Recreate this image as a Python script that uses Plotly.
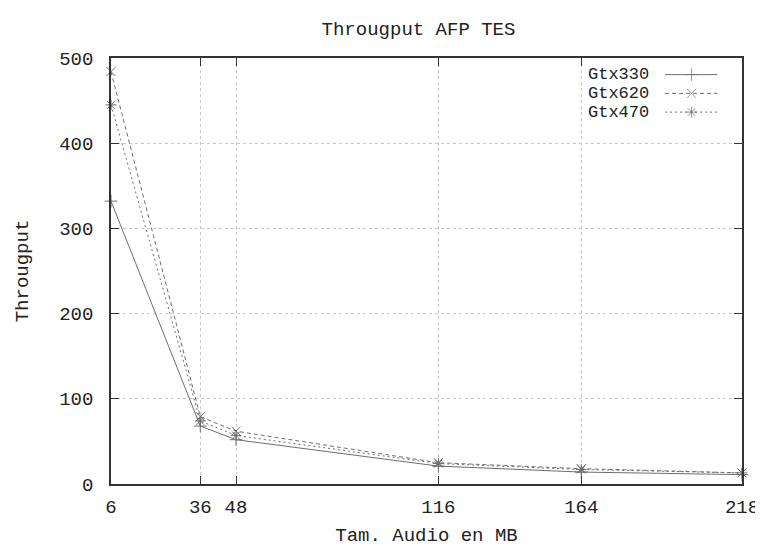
import plotly.graph_objects as go

sizes_mb = [6, 36, 48, 116, 164, 218]
gtx330 = [332, 68, 52, 21, 14, 11]
gtx620 = [484, 79, 62, 25, 18, 13]
gtx470 = [445, 74, 57, 24, 17, 13]
series_names = ["Gtx330", "Gtx620", "Gtx470"]
x_ticks = [6, 36, 48, 116, 164, 218]
y_ticks = [0, 100, 200, 300, 400, 500]

FONT = "Courier New, Liberation Mono, monospace"
GRAY = "#6e6e6e"
styles = [("solid", "cross-thin-open"), ("4px,3px", "x-thin-open"), ("2px,3px", "asterisk-open")]

fig = go.Figure()
for name, vals, (dash, sym) in zip(series_names, [gtx330, gtx620, gtx470], styles):
    fig.add_trace(go.Scatter(
        x=sizes_mb, y=vals, mode="lines+markers", name=name,
        line=dict(color=GRAY, width=1, dash=dash),
        marker=dict(symbol=sym, size=9, color=GRAY, line=dict(color=GRAY, width=1)),
        showlegend=False, cliponaxis=False))

# gnuplot-style key: text on the left, sample on the right
key_y = [0.961, 0.917, 0.873]
for name, ky, (dash, sym) in zip(series_names, key_y, styles):
    fig.add_trace(go.Scatter(
        x=[0.878, 0.92, 0.961], y=[ky, ky, ky], xaxis="x2", yaxis="y2",
        mode="lines+markers", line=dict(color=GRAY, width=1, dash=dash),
        marker=dict(symbol=sym, size=[0, 9, 0], color=GRAY, line=dict(color=GRAY, width=1)),
        showlegend=False, hoverinfo="skip"))
    fig.add_annotation(x=0.855, y=ky, xref="x2", yref="y2", text=name, showarrow=False,
                       xanchor="right", yanchor="middle",
                       font=dict(family=FONT, size=17, color="#222"))

axis_common = dict(showline=True, linecolor="#333", linewidth=1.5, mirror="ticks",
                   ticks="inside", ticklen=8, tickcolor="#333",
                   showgrid=True, gridcolor="#c8c8c8", griddash="dot", gridwidth=1,
                   zeroline=False, tickfont=dict(family=FONT, size=19, color="#222"))

fig.update_layout(
    width=763, height=546,
    margin=dict(l=101, r=20, t=50, b=64),
    paper_bgcolor="white", plot_bgcolor="white",
    title=dict(text="Througput AFP TES", x=0.538, xanchor="center", y=0.962, yanchor="middle",
               font=dict(family=FONT, size=19, color="#222")),
    xaxis=dict(range=[6, 218], tickmode="array", tickvals=x_ticks, ticklabelstandoff=4,
               title=dict(text="Tam. Audio en MB", font=dict(family=FONT, size=19, color="#222"), standoff=10),
               **axis_common),
    yaxis=dict(range=[0, 500], tickmode="array", tickvals=y_ticks, ticklabelstandoff=12,
               title=dict(text="Througput", font=dict(family=FONT, size=19, color="#222"), standoff=26),
               **axis_common),
    xaxis2=dict(overlaying="x", range=[0, 1], visible=False),
    yaxis2=dict(overlaying="y", range=[0, 1], visible=False),
)

fig.write_html("out.html")
